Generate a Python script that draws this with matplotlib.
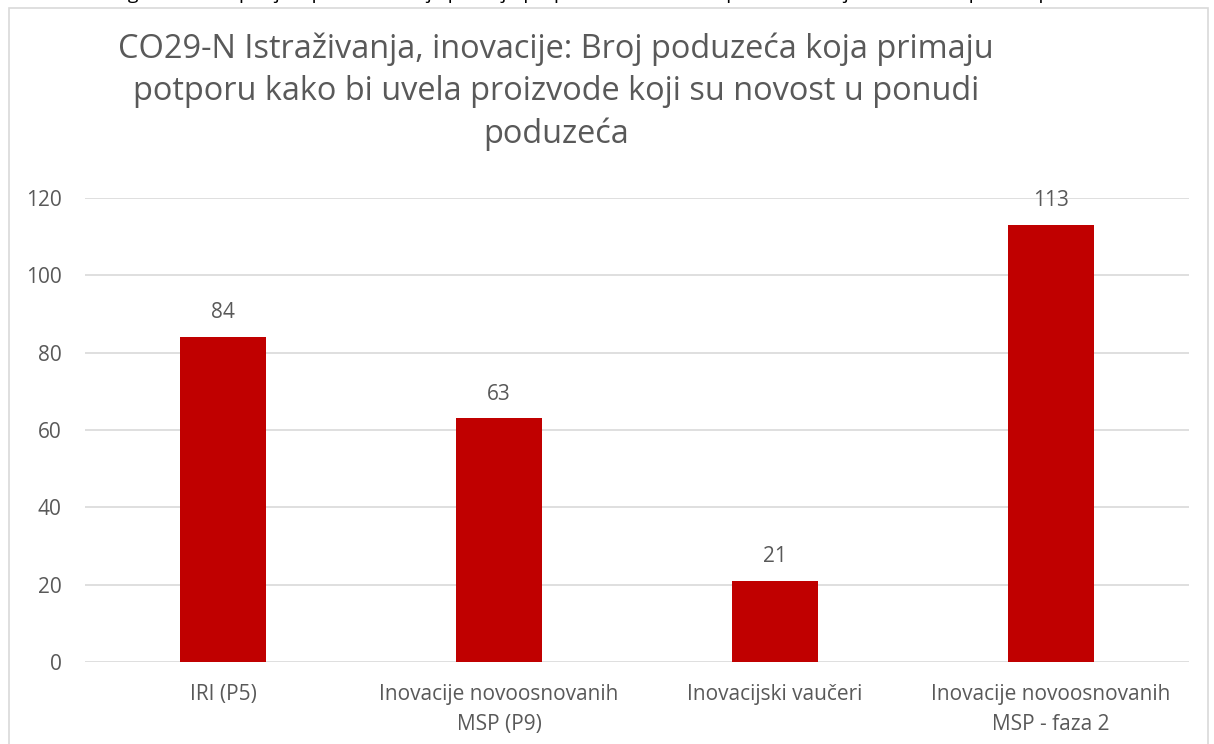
import matplotlib
matplotlib.use("Agg")
import matplotlib.pyplot as plt
from matplotlib.patches import Rectangle

categories = ["IRI (P5)", "Inovacije novoosnovanih\nMSP (P9)", "Inovacijski vaučeri",
              "Inovacije novoosnovanih\nMSP - faza 2"]
values = [84, 63, 21, 113]
yticks = [0, 20, 40, 60, 80, 100, 120]
title = "CO29-N Istraživanja, inovacije: Broj poduzeća koja primaju\npotporu kako bi uvela proizvode koji su novost u ponudi\npoduzeća"
caption = "Grafikon 4: Regionalna raspodjela poduzeća koja primaju potporu kako bi uvela proizvode koji su novost u ponudi poduzeća"

plt.rcParams['font.family'] = ['Open Sans', 'DejaVu Sans']
text_color = "#595959"
bar_color = "#C00000"
grid_color = "#D9D9D9"

fig = plt.figure(figsize=(12.14, 7.44), dpi=100)
W, H = 1214, 744

# chart frame
fig.patches.append(Rectangle((9 / W, -0.05), (1208 - 9) / W, (744 - 8) / H + 0.05,
                             transform=fig.transFigure, fill=False,
                             edgecolor=grid_color, linewidth=1.2))

# caption line above the chart, partly cut by the top edge
fig.text(0.0, 1 + 1 / H, caption, ha="left", va="baseline", fontsize=14, color="black")

ax = fig.add_axes([85 / W, 82 / H, (1189 - 85) / W, (662 - 198) / H])
x = range(len(categories))
bars = ax.bar(x, values, width=0.31, color=bar_color, zorder=3)
ax.set_xlim(-0.5, len(categories) - 0.5)
ax.set_ylim(0, 120)
ax.set_yticks(yticks)
ax.set_xticks(list(x))
ax.set_xticklabels(categories, fontsize=15, color=text_color, linespacing=1.55)
ax.tick_params(axis="y", labelsize=15, labelcolor=text_color, length=0, pad=17)
ax.tick_params(axis="x", length=0, pad=16)
ax.grid(axis="y", color=grid_color, linewidth=1.2, zorder=0)
for s in ax.spines.values():
    s.set_visible(False)

for xi, v in zip(x, values):
    ax.annotate(str(v), (xi, v), xytext=(0, 10), textcoords="offset points",
                ha="center", va="bottom", fontsize=15, color=text_color)

fig.text(556 / W, 1 - 32 / H, title, ha="center", va="top", fontsize=23.4,
         color=text_color, linespacing=1.38)

fig.savefig("out.png", dpi=100)
